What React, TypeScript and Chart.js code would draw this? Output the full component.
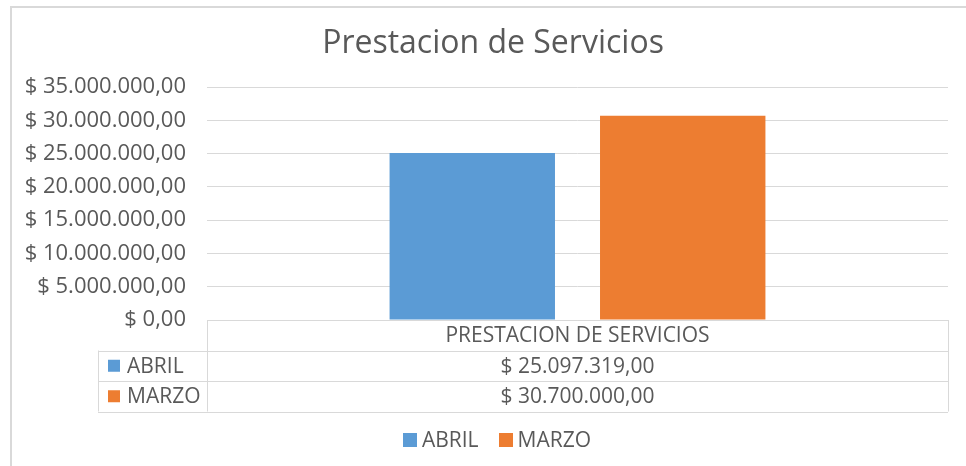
import React, { useEffect, useRef } from "react";
import { Chart, registerables } from "chart.js";

Chart.register(...registerables);

const chartTitle = "Prestacion de Servicios";
const categories = ["PRESTACION DE SERVICIOS"];
const seriesNames = ["ABRIL", "MARZO"];
const abrilValues = [25097319];
const marzoValues = [30700000];
const yMin = 0;
const yMax = 35000000;
const yStep = 5000000;

const COLORS = ["#5B9BD5", "#ED7D31"];
const TEXT = "#595959";
const LINE = "#d9d9d9";
const FONT = "'Open Sans', sans-serif";

function fmtMoney(v: number): string {
  const parts = Math.round(v).toString().replace(/\B(?=(\d{3})+(?!\d))/g, ".");
  return "$ " + parts + ",00";
}

// frame, centred title and bottom legend (the chart is centred on the full Excel frame)
const framePlugin = {
  id: "frame",
  beforeDraw(chart: any) {
    const { ctx, width, height } = chart;
    ctx.save();
    ctx.fillStyle = "#ffffff";
    ctx.fillRect(0, 0, width, height);
    ctx.strokeStyle = LINE;
    ctx.lineWidth = 2;
    ctx.beginPath();
    ctx.moveTo(11, height);
    ctx.lineTo(11, 7);
    ctx.lineTo(width, 7);
    ctx.stroke();
    ctx.restore();
  },
  afterDraw(chart: any) {
    const { ctx } = chart;
    const centerX = 493;
    ctx.save();
    ctx.fillStyle = TEXT;
    ctx.textBaseline = "middle";
    ctx.textAlign = "center";
    ctx.font = "32px " + FONT;
    ctx.fillText(chartTitle, centerX, 44);

    // legend
    ctx.font = "21px " + FONT;
    ctx.textAlign = "left";
    const box = 14;
    const gap = 5;
    const between = 20;
    const items = chart.data.datasets.map((ds: any) => ({
      label: ds.label,
      color: ds.backgroundColor,
      w: ctx.measureText(ds.label).width,
    }));
    let total = 0;
    items.forEach((it: any, i: number) => {
      total += box + gap + it.w + (i < items.length - 1 ? between : 0);
    });
    let x = centerX + 4 - total / 2;
    const cy = 440;
    items.forEach((it: any) => {
      ctx.fillStyle = it.color;
      ctx.fillRect(Math.round(x), cy - 7, box, box);
      ctx.fillStyle = TEXT;
      ctx.fillText(it.label, x + box + gap, cy + 1);
      x += box + gap + it.w + between;
    });
    ctx.restore();
  },
};

const tablePlugin = {
  id: "dataTable",
  afterDraw(chart: any) {
    const { ctx, chartArea } = chart;
    const xs = chart.scales.x;
    const left = chartArea.left;
    const right = chartArea.right;
    const top = chartArea.bottom;
    const rowH = 30.5;
    const labelLeft = left - 109;
    const rows = chart.data.datasets.length;
    const bottom = top + rowH * (rows + 1);
    ctx.save();
    ctx.strokeStyle = LINE;
    ctx.lineWidth = 1;
    ctx.beginPath();
    ctx.moveTo(left, Math.round(top) + 0.5);
    ctx.lineTo(right, Math.round(top) + 0.5);
    for (let r = 1; r <= rows + 1; r++) {
      const y = Math.round(top + rowH * r) + 0.5;
      ctx.moveTo(labelLeft, y);
      ctx.lineTo(right, y);
    }
    ctx.moveTo(Math.round(left) + 0.5, top);
    ctx.lineTo(Math.round(left) + 0.5, bottom);
    ctx.moveTo(Math.round(right) + 0.5, top);
    ctx.lineTo(Math.round(right) + 0.5, bottom);
    ctx.moveTo(Math.round(labelLeft) + 0.5, top + rowH);
    ctx.lineTo(Math.round(labelLeft) + 0.5, bottom);
    ctx.stroke();

    ctx.font = "21px " + FONT;
    ctx.fillStyle = TEXT;
    ctx.textBaseline = "middle";
    ctx.textAlign = "center";
    chart.data.labels.forEach((lab: string, i: number) => {
      const cx = xs.getPixelForValue(i);
      ctx.fillText(lab, cx, top + rowH / 2 + 1);
      chart.data.datasets.forEach((ds: any, d: number) => {
        ctx.fillText(fmtMoney(ds.data[i]), cx, top + rowH * (d + 1.5) + 1);
      });
    });
    chart.data.datasets.forEach((ds: any, d: number) => {
      const cy = top + rowH * (d + 1.5);
      ctx.fillStyle = ds.backgroundColor;
      ctx.fillRect(labelLeft + 10, cy - 6, 12, 12);
      ctx.fillStyle = TEXT;
      ctx.textAlign = "left";
      ctx.fillText(ds.label, labelLeft + 29, cy + 1);
    });
    ctx.restore();
  },
};

export default function App() {
  const ref = useRef<HTMLCanvasElement | null>(null);
  useEffect(() => {
    document.body.style.margin = "0";
    const canvas = ref.current;
    if (!canvas) return;
    const chart = new Chart(canvas, {
      type: "bar",
      data: {
        labels: categories,
        datasets: [
          { label: seriesNames[0], data: abrilValues, backgroundColor: COLORS[0] },
          { label: seriesNames[1], data: marzoValues, backgroundColor: COLORS[1] },
        ],
      },
      options: {
        responsive: false,
        animation: false,
        devicePixelRatio: 1,
        layout: { padding: { left: 0, right: 18, top: 87, bottom: 55 } },
        datasets: {
          bar: { categoryPercentage: 0.568, barPercentage: 0.786 },
        },
        scales: {
          x: {
            display: true,
            grid: { display: false },
            border: { display: false },
            ticks: { display: false },
            afterFit: (s: any) => {
              s.height = 91;
            },
          },
          y: {
            min: yMin,
            max: yMax,
            grid: { color: LINE, lineWidth: 1, drawTicks: false },
            border: { display: false },
            ticks: {
              stepSize: yStep,
              padding: 21,
              color: TEXT,
              font: { family: FONT, size: 22 },
              callback: (v: any) => fmtMoney(Number(v)),
            },
            afterFit: (s: any) => {
              s.width = 207;
            },
          },
        },
        plugins: {
          title: { display: false },
          legend: { display: false },
          tooltip: { enabled: false },
        },
      },
      plugins: [framePlugin, tablePlugin],
    } as any);
    return () => chart.destroy();
  }, []);
  return (
    <div style={{ width: 966, height: 466 }}>
      <canvas ref={ref} width={966} height={466} style={{ display: "block" }} />
    </div>
  );
}
